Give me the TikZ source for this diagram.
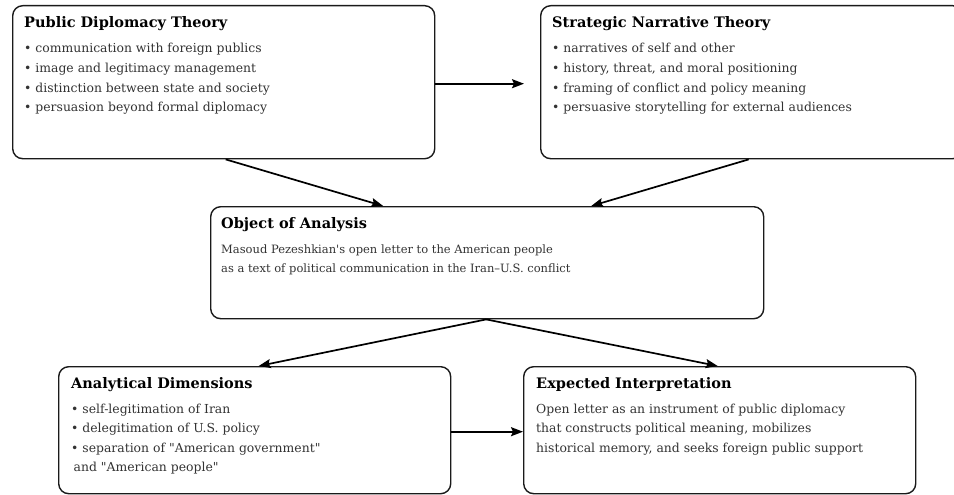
\documentclass[tikz,border=0pt]{standalone}
\usepackage{fontspec}
\setmainfont{DejaVu Serif}
\usetikzlibrary{arrows.meta,calc}
\definecolor{txt}{HTML}{333333}
\definecolor{edge}{HTML}{1A1A1A}
\tikzset{
  panel/.style={draw=edge, line width=1.4pt, rounded corners=10pt, anchor=north west, inner sep=0pt, fill=white},
  title/.style={anchor=base west, inner sep=0pt, font=\fontsize{14.5}{16}\selectfont\bfseries, text=black},
  body/.style={anchor=base west, inner sep=0pt, font=\fontsize{12.4}{19.6}\selectfont, text=txt},
  smallbody/.style={body, font=\fontsize{11.5}{19.6}\selectfont},
  conn/.style={draw=black, line width=1.7pt, -{Stealth[length=12pt,width=9pt,inset=2pt]}}
}
\newcommand{\lines}[1]{\parbox[t]{430pt}{\raggedright\baselineskip=19.6pt #1}}
\begin{document}
\begin{tikzpicture}[x=1pt,y=-1pt]
\useasboundingbox (0,0) rectangle (954,495);
% boxes
\node[panel, minimum width=422pt, minimum height=153pt] (b1) at (12,5) {};
\node[panel, minimum width=422pt, minimum height=153pt] (b2) at (540,5) {};
\node[panel, minimum width=553pt, minimum height=112pt] (b3) at (210,206) {};
\node[panel, minimum width=392pt, minimum height=127pt] (b4) at (58,366) {};
\node[panel, minimum width=392pt, minimum height=127pt] (b5) at (523,366) {};
% texts
\node[title] (h1) at ($(b1.north west)+(12,23)$) {Public Diplomacy Theory};
\node[body] (t1) at ($(b1.north west)+(12,48)$) {\lines{• communication with foreign publics\\
• image and legitimacy management\\
• distinction between state and society\\
• persuasion beyond formal diplomacy}};
\node[title] (h2) at ($(b2.north west)+(12,23)$) {Strategic Narrative Theory};
\node[body] (t2) at ($(b2.north west)+(12,48)$) {\lines{• narratives of self and other\\
• history, threat, and moral positioning\\
• framing of conflict and policy meaning\\
• persuasive storytelling for external audiences}};
\node[title] (h3) at ($(b3.north west)+(11,22)$) {Object of Analysis};
\node[smallbody] (t3) at ($(b3.north west)+(11,47)$) {\lines{Masoud Pezeshkian\textquotesingle s open letter to the American people\\
as a text of political communication in the Iran–U.S. conflict}};
\node[title] (h4) at ($(b4.north west)+(13,22)$) {Analytical Dimensions};
\node[body] (t4) at ($(b4.north west)+(13,47)$) {\lines{• self-legitimation of Iran\\
• delegitimation of U.S. policy\\
• separation of \textquotedbl American government\textquotedbl\\
\hspace*{2.5pt}and \textquotedbl American people\textquotedbl}};
\node[title] (h5) at ($(b5.north west)+(13,22)$) {Expected Interpretation};
\node[body] (t5) at ($(b5.north west)+(13,47)$) {\lines{Open letter as an instrument of public diplomacy\\
that constructs political meaning, mobilizes\\
historical memory, and seeks foreign public support}};
% connectors
\draw[conn] ($(b1.east)+(0,1.5)$) -- ($(b2.west)+(-16,1.5)$);
\draw[conn] ($(b1.south)+(2,0)$) -- ($(b3.north)+(-104,0)$);
\draw[conn] ($(b2.south)+(-3,0)$) -- ($(b3.north)+(104,0)$);
\draw[conn] ($(b3.south)+(-1,0)$) -- ($(b4.north)+(4,0)$);
\draw[conn] ($(b3.south)+(-1,0)$) -- ($(b5.north)+(-2,0)$);
\draw[conn] ($(b4.east)+(0,1.5)$) -- ($(b5.west)+(0,1.5)$);
\end{tikzpicture}
\end{document}
